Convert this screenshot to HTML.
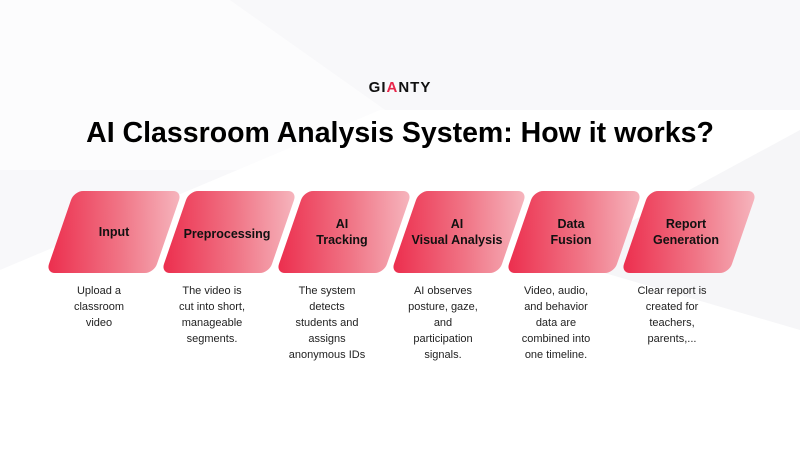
<!DOCTYPE html>
<html><head><style>
body{margin:0;width:800px;height:450px;overflow:hidden;font-family:"Liberation Sans",sans-serif;background:#f8f8fa;position:relative}
.bg{position:absolute;left:0;top:0}
.logo{position:absolute;left:0;width:800px;top:79px;text-align:center;font-weight:bold;font-size:15px;letter-spacing:1px;color:#111}
.logo span{color:#e8264a}
h1{position:absolute;left:0;width:800px;top:117px;margin:0;text-align:center;font-size:28.5px;font-weight:bold;color:#000}
.sh{position:absolute;top:191px;width:108px;height:82px;border-radius:9px;transform:skewX(-19deg);background:linear-gradient(70deg,#ec2c4c 0%,#f07586 55%,#f6b7bf 100%)}
.lb{position:absolute;top:191px;height:82px;width:120px;display:flex;align-items:center;justify-content:center;text-align:center;font-weight:bold;font-size:12.5px;line-height:16px;color:#111}
.ds{position:absolute;top:283px;width:110px;text-align:center;font-size:11px;line-height:16px;color:#222}
</style></head><body>
<svg class="bg" width="800" height="450">
<polygon points="0,0 230,0 470,170 0,170" fill="#ffffff" opacity=".5"/>
<polygon points="0,270 380,110 800,110 800,450 0,450" fill="#ffffff"/>
<polygon points="560,260 800,130 800,330" fill="#f6f6f8"/>
</svg>
<div class="logo">GI<span>A</span>NTY</div>
<h1>AI Classroom Analysis System: How it works?</h1>

<div class="sh" style="left:60px"></div>
<div class="sh" style="left:175px"></div>
<div class="sh" style="left:290px"></div>
<div class="sh" style="left:405px"></div>
<div class="sh" style="left:520px"></div>
<div class="sh" style="left:635px"></div>

<div class="lb" style="left:54px;top:191px">Input</div>
<div class="lb" style="left:167px;top:193px">Preprocessing</div>
<div class="lb" style="left:282px">AI<br>Tracking</div>
<div class="lb" style="left:397px">AI<br>Visual Analysis</div>
<div class="lb" style="left:511px">Data<br>Fusion</div>
<div class="lb" style="left:626px">Report<br>Generation</div>

<div class="ds" style="left:44px">Upload a<br>classroom<br>video</div>
<div class="ds" style="left:157px">The video is<br>cut into short,<br>manageable<br>segments.</div>
<div class="ds" style="left:272px">The system<br>detects<br>students and<br>assigns<br>anonymous IDs</div>
<div class="ds" style="left:388px">AI observes<br>posture, gaze,<br>and<br>participation<br>signals.</div>
<div class="ds" style="left:501px">Video, audio,<br>and behavior<br>data are<br>combined into<br>one timeline.</div>
<div class="ds" style="left:617px">Clear report is<br>created for<br>teachers,<br>parents,...</div>
</body></html>
